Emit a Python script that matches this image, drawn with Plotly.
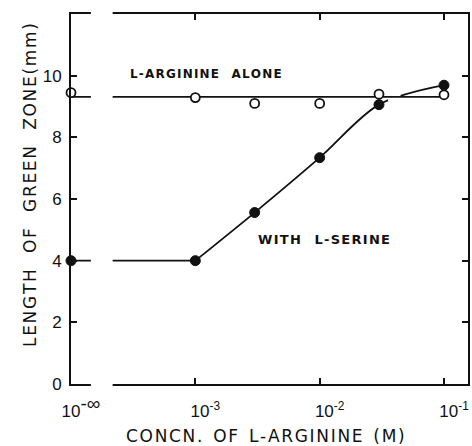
import plotly.graph_objects as go

# ---- data (concentration 1e-4 stands in for the "10^-inf" = zero point) ----
conc = [1e-4, 1e-3, 3e-3, 1e-2, 3e-2, 1e-1]
arg_alone = [9.45, 9.29, 9.10, 9.10, 9.40, 9.38]
with_serine = [4.0, 4.0, 5.56, 7.34, 9.06, 9.69]
alone_mean = 9.31
x_tickvals = [1e-4, 1e-3, 1e-2, 1e-1]
x_ticktext = ["10<sup><span style='font-size:19px'>-\u221e</span></sup>",
              "10<sup>-3</sup>", "10<sup>-2</sup>", "10<sup>-1</sup>"]
y_tickvals = [0, 2, 4, 6, 8, 10]

FONT = "Liberation Sans, Arial, sans-serif"
LFONT = "DejaVu Sans, sans-serif"
INK = "#111111"
S2 = "\u00a0\u00a0"
S3 = "\u00a0\u00a0\u00a0"
HS = "\u200a"


def tracked(s):
    return HS.join(s)


fig = go.Figure()

# flat part of the serine curve
fig.add_trace(go.Scatter(x=conc[:2], y=with_serine[:2], mode="lines",
                         line=dict(color=INK, width=1.8), hoverinfo="skip"))
# rising part of the serine curve
fig.add_trace(go.Scatter(x=conc[1:], y=with_serine[1:], mode="lines",
                         line=dict(color=INK, width=1.8, shape="spline", smoothing=0.9),
                         hoverinfo="skip"))
# mask where the curve crosses the horizontal line
fig.add_trace(go.Scatter(x=[10**-1.45, 10**-1.35], y=[alone_mean, alone_mean], mode="lines",
                         line=dict(color="white", width=9), hoverinfo="skip"))
# horizontal line for L-arginine alone
fig.add_trace(go.Scatter(x=[conc[0], conc[-1]], y=[alone_mean, alone_mean], mode="lines",
                         line=dict(color=INK, width=1.8), hoverinfo="skip"))
# open circles
fig.add_trace(go.Scatter(x=conc, y=arg_alone, mode="markers", cliponaxis=False,
                         marker=dict(symbol="circle", size=9, color="white",
                                     line=dict(color=INK, width=1.8))))
# filled circles
fig.add_trace(go.Scatter(x=conc, y=with_serine, mode="markers", cliponaxis=False,
                         marker=dict(symbol="circle", size=10, color=INK,
                                     line=dict(color=INK, width=1))))

# axis break
fig.add_shape(type="rect", xref="x", yref="paper",
              x0=10**-3.84, x1=10**-3.665, y0=-0.02, y1=1.02,
              fillcolor="white", line=dict(width=0), layer="above")

fig.add_annotation(text=tracked("L-ARGININE") + S3 + tracked("ALONE"),
                   xref="paper", yref="paper", x=0.341, y=0.862, showarrow=False,
                   font=dict(family=LFONT, size=12, color=INK, weight="bold"))
fig.add_annotation(text=tracked("WITH") + S3 + tracked("L-SERINE"),
                   xref="paper", yref="paper", x=0.637, y=0.391, showarrow=False,
                   font=dict(family=LFONT, size=13, color=INK, weight="bold"))
fig.add_annotation(text=tracked("LENGTH") + S3 + tracked("OF") + S3 + tracked("GREEN")
                   + S3 + tracked("ZONE(mm)"),
                   xref="paper", yref="paper", x=-0.135, y=0.539, textangle=-90,
                   showarrow=False, font=dict(family=LFONT, size=17, color=INK))
fig.add_annotation(text=tracked("CONCN.") + S2 + tracked("OF") + S2 + tracked("L-ARGININE")
                   + S2 + tracked("(M)"),
                   xref="paper", yref="paper", x=0.489, y=-0.172,
                   showarrow=False, font=dict(family=LFONT, size=17, color=INK))

fig.update_layout(
    width=472, height=446,
    margin=dict(l=71, r=4, t=14, b=62, autoexpand=False),
    paper_bgcolor="white", plot_bgcolor="white",
    showlegend=False,
    font=dict(family=FONT, color=INK, size=17),
)
fig.update_xaxes(type="log", range=[-4, -0.807], tickvals=x_tickvals, ticktext=x_ticktext,
                 automargin=False,
                 showgrid=False, zeroline=False, showline=True, linecolor=INK, linewidth=2,
                 mirror="ticks", ticks="inside", ticklen=6, tickwidth=1.5, tickcolor=INK,
                 ticklabelshift=10, ticklabelstandoff=11,
                 tickfont=dict(family=FONT, size=17, color=INK))
fig.update_yaxes(range=[0, 12], tickvals=y_tickvals, automargin=False,
                 showgrid=False, zeroline=False, showline=True, linecolor=INK, linewidth=2,
                 mirror="ticks", ticks="inside", ticklen=6, tickwidth=1.5, tickcolor=INK,
                 ticklabelstandoff=4, tickfont=dict(family=FONT, size=17, color=INK))

fig.write_html("out.html", config={"displayModeBar": False},
               post_script="document.body.style.margin='0px';")
